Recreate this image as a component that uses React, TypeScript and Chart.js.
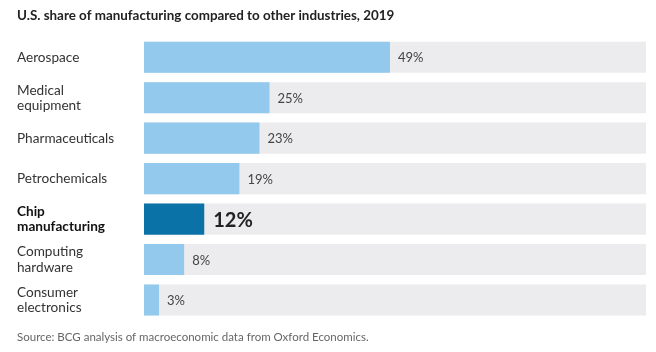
import React, { useEffect, useRef } from "react";
import { Chart, registerables } from "chart.js";

Chart.register(...registerables);

const categories: (string | string[])[] = [
  "Aerospace",
  ["Medical", "equipment"],
  "Pharmaceuticals",
  "Petrochemicals",
  ["Chip", "manufacturing"],
  ["Computing", "hardware"],
  ["Consumer", "electronics"],
];
const shares = [49, 25, 23, 19, 12, 8, 3];
const fullScale = [100, 100, 100, 100, 100, 100, 100];
const highlightIndex = 4;

const titleText = "U.S. share of manufacturing compared to other industries, 2019";
const sourceText = "Source: BCG analysis of macroeconomic data from Oxford Economics.";

const FONT = "Lato, 'Noto Sans', sans-serif";

const valueLabels = {
  id: "valueLabels",
  afterDatasetsDraw(chart: any) {
    const ctx = chart.ctx;
    const meta = chart.getDatasetMeta(0);
    ctx.save();
    ctx.textBaseline = "middle";
    ctx.textAlign = "left";
    meta.data.forEach((bar: any, i: number) => {
      const hl = i === highlightIndex;
      ctx.font = hl ? `bold 20px ${FONT}` : `13px ${FONT}`;
      ctx.fillStyle = hl ? "#222222" : "#444444";
      ctx.fillText(`${shares[i]}%`, bar.x + (hl ? 9 : 8), bar.y + 1);
    });
    ctx.restore();
  },
};

export default function App() {
  const ref = useRef<HTMLCanvasElement>(null);
  useEffect(() => {
    if (!ref.current) return;
    const chart = new Chart(ref.current, {
      type: "bar",
      data: {
        labels: categories,
        datasets: [
          {
            data: shares,
            backgroundColor: shares.map((_, i) => (i === highlightIndex ? "#0b72a8" : "#92c9ec")),
            barPercentage: 0.77,
            categoryPercentage: 1,
            grouped: false,
            order: 1,
          },
          {
            data: fullScale,
            backgroundColor: "#ececee",
            barPercentage: 0.77,
            categoryPercentage: 1,
            grouped: false,
            order: 2,
          },
        ],
      },
      options: {
        indexAxis: "y",
        animation: false,
        responsive: false,
        maintainAspectRatio: false,
        layout: { padding: { left: 17, right: 10, top: 0, bottom: 0 } },
        plugins: {
          legend: { display: false },
          tooltip: { enabled: false },
          title: {
            display: true,
            text: titleText,
            align: "start",
            color: "#222222",
            font: { family: FONT, size: 13.4, weight: "bold" },
            padding: { top: 8, bottom: 13 },
          },
          subtitle: {
            display: true,
            text: sourceText,
            position: "bottom",
            align: "start",
            color: "#666666",
            font: { family: FONT, size: 11.5, weight: "normal" },
            padding: { top: 10, bottom: 8 },
          },
        },
        scales: {
          x: { display: false, min: 0, max: 100 },
          y: {
            grid: { display: false, drawTicks: false },
            border: { display: false },
            afterFit(scale: any) {
              scale.width = 127;
            },
            ticks: {
              crossAlign: "far",
              padding: 0,
              color: (ctx: any) => (ctx.index === highlightIndex ? "#111111" : "#333333"),
              font: (ctx: any) => ({
                family: FONT,
                size: 13.6,
                weight: ctx.index === highlightIndex ? "bold" : "normal",
                lineHeight: 1.12,
              }),
            },
          },
        },
      } as any,
      plugins: [valueLabels],
    });
    return () => chart.destroy();
  }, []);
  return (
    <div style={{ position: "absolute", left: 0, top: 0, width: 656, height: 352, background: "#fff" }}>
      <canvas ref={ref} width={656} height={352} style={{ width: 656, height: 352 }} />
    </div>
  );
}
